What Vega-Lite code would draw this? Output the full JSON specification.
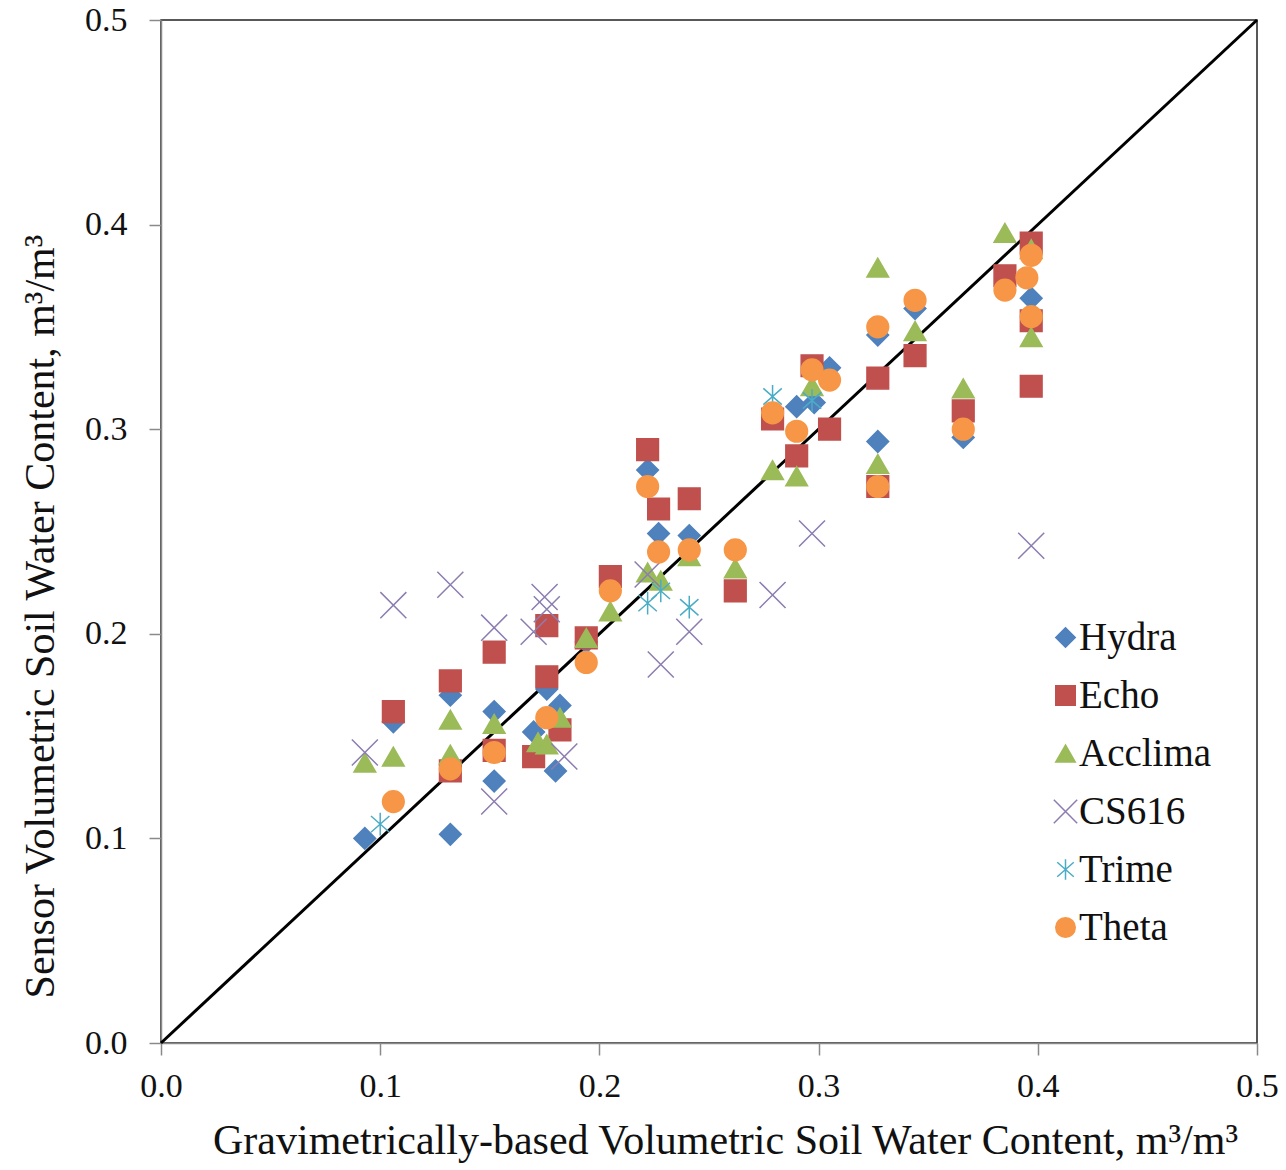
{
  "$schema": "https://vega.github.io/schema/vega-lite/v6.json",
  "width": 1096,
  "height": 1023,
  "autosize": {"type": "none"},
  "padding": {"left": 161, "top": 20, "right": 29, "bottom": 127},
  "background": "white",
  "view": {"stroke": "#222", "strokeWidth": 1.5},
  "config": {
    "font": "Liberation Serif",
    "axis": {
      "grid": false,
      "domainColor": "#8a8a8a",
      "domainWidth": 1.5,
      "tickColor": "#8a8a8a",
      "tickWidth": 1.5,
      "tickSize": 12,
      "labelFlush": false,
      "labelFont": "Liberation Serif",
      "labelFontSize": 34,
      "labelColor": "#111",
      "titleFont": "Liberation Serif",
      "titleFontSize": 42,
      "titleFontWeight": "normal",
      "titleColor": "#111"
    }
  },
  "layer": [
    {
      "data": {"values": [{"x": 0, "y": 0}, {"x": 0.5, "y": 0.5}]},
      "mark": {"type": "line", "color": "black", "strokeWidth": 3},
      "encoding": {
        "x": {"field": "x", "type": "quantitative", "scale": {"domain": [0, 0.5], "nice": false}},
        "y": {"field": "y", "type": "quantitative", "scale": {"domain": [0, 0.5], "nice": false}}
      }
    },
    {
      "data": {"values": [
        {"s": "Hydra", "x": 0.093, "y": 0.100},
        {"s": "Hydra", "x": 0.106, "y": 0.157},
        {"s": "Hydra", "x": 0.132, "y": 0.170},
        {"s": "Hydra", "x": 0.132, "y": 0.102},
        {"s": "Hydra", "x": 0.152, "y": 0.162},
        {"s": "Hydra", "x": 0.152, "y": 0.128},
        {"s": "Hydra", "x": 0.170, "y": 0.152},
        {"s": "Hydra", "x": 0.176, "y": 0.173},
        {"s": "Hydra", "x": 0.182, "y": 0.165},
        {"s": "Hydra", "x": 0.180, "y": 0.133},
        {"s": "Hydra", "x": 0.194, "y": 0.196},
        {"s": "Hydra", "x": 0.222, "y": 0.280},
        {"s": "Hydra", "x": 0.227, "y": 0.249},
        {"s": "Hydra", "x": 0.241, "y": 0.248},
        {"s": "Hydra", "x": 0.290, "y": 0.311},
        {"s": "Hydra", "x": 0.298, "y": 0.313},
        {"s": "Hydra", "x": 0.305, "y": 0.330},
        {"s": "Hydra", "x": 0.327, "y": 0.346},
        {"s": "Hydra", "x": 0.327, "y": 0.294},
        {"s": "Hydra", "x": 0.344, "y": 0.359},
        {"s": "Hydra", "x": 0.366, "y": 0.296},
        {"s": "Hydra", "x": 0.397, "y": 0.364},
        {"s": "Echo", "x": 0.106, "y": 0.162},
        {"s": "Echo", "x": 0.132, "y": 0.177},
        {"s": "Echo", "x": 0.132, "y": 0.133},
        {"s": "Echo", "x": 0.152, "y": 0.191},
        {"s": "Echo", "x": 0.152, "y": 0.143},
        {"s": "Echo", "x": 0.170, "y": 0.140},
        {"s": "Echo", "x": 0.176, "y": 0.204},
        {"s": "Echo", "x": 0.176, "y": 0.179},
        {"s": "Echo", "x": 0.182, "y": 0.153},
        {"s": "Echo", "x": 0.194, "y": 0.198},
        {"s": "Echo", "x": 0.205, "y": 0.228},
        {"s": "Echo", "x": 0.222, "y": 0.290},
        {"s": "Echo", "x": 0.227, "y": 0.261},
        {"s": "Echo", "x": 0.241, "y": 0.266},
        {"s": "Echo", "x": 0.262, "y": 0.221},
        {"s": "Echo", "x": 0.279, "y": 0.305},
        {"s": "Echo", "x": 0.290, "y": 0.287},
        {"s": "Echo", "x": 0.297, "y": 0.331},
        {"s": "Echo", "x": 0.305, "y": 0.300},
        {"s": "Echo", "x": 0.327, "y": 0.325},
        {"s": "Echo", "x": 0.327, "y": 0.272},
        {"s": "Echo", "x": 0.344, "y": 0.336},
        {"s": "Echo", "x": 0.366, "y": 0.309},
        {"s": "Echo", "x": 0.385, "y": 0.375},
        {"s": "Echo", "x": 0.397, "y": 0.391},
        {"s": "Echo", "x": 0.397, "y": 0.353},
        {"s": "Echo", "x": 0.397, "y": 0.321},
        {"s": "Acclima", "x": 0.093, "y": 0.137},
        {"s": "Acclima", "x": 0.106, "y": 0.140},
        {"s": "Acclima", "x": 0.132, "y": 0.158},
        {"s": "Acclima", "x": 0.132, "y": 0.141},
        {"s": "Acclima", "x": 0.152, "y": 0.156},
        {"s": "Acclima", "x": 0.172, "y": 0.147},
        {"s": "Acclima", "x": 0.176, "y": 0.146},
        {"s": "Acclima", "x": 0.182, "y": 0.159},
        {"s": "Acclima", "x": 0.194, "y": 0.198},
        {"s": "Acclima", "x": 0.205, "y": 0.211},
        {"s": "Acclima", "x": 0.222, "y": 0.230},
        {"s": "Acclima", "x": 0.228, "y": 0.226},
        {"s": "Acclima", "x": 0.241, "y": 0.238},
        {"s": "Acclima", "x": 0.262, "y": 0.232},
        {"s": "Acclima", "x": 0.279, "y": 0.280},
        {"s": "Acclima", "x": 0.290, "y": 0.277},
        {"s": "Acclima", "x": 0.297, "y": 0.321},
        {"s": "Acclima", "x": 0.327, "y": 0.379},
        {"s": "Acclima", "x": 0.327, "y": 0.283},
        {"s": "Acclima", "x": 0.344, "y": 0.348},
        {"s": "Acclima", "x": 0.366, "y": 0.320},
        {"s": "Acclima", "x": 0.385, "y": 0.396},
        {"s": "Acclima", "x": 0.397, "y": 0.388},
        {"s": "Acclima", "x": 0.397, "y": 0.345},
        {"s": "CS616", "x": 0.093, "y": 0.142},
        {"s": "CS616", "x": 0.106, "y": 0.214},
        {"s": "CS616", "x": 0.132, "y": 0.224},
        {"s": "CS616", "x": 0.152, "y": 0.203},
        {"s": "CS616", "x": 0.152, "y": 0.118},
        {"s": "CS616", "x": 0.170, "y": 0.201},
        {"s": "CS616", "x": 0.175, "y": 0.218},
        {"s": "CS616", "x": 0.176, "y": 0.212},
        {"s": "CS616", "x": 0.184, "y": 0.140},
        {"s": "CS616", "x": 0.222, "y": 0.229},
        {"s": "CS616", "x": 0.228, "y": 0.185},
        {"s": "CS616", "x": 0.241, "y": 0.201},
        {"s": "CS616", "x": 0.279, "y": 0.219},
        {"s": "CS616", "x": 0.297, "y": 0.249},
        {"s": "CS616", "x": 0.397, "y": 0.243},
        {"s": "Trime", "x": 0.100, "y": 0.107},
        {"s": "Trime", "x": 0.222, "y": 0.215},
        {"s": "Trime", "x": 0.228, "y": 0.221},
        {"s": "Trime", "x": 0.241, "y": 0.213},
        {"s": "Trime", "x": 0.279, "y": 0.316},
        {"s": "Trime", "x": 0.297, "y": 0.314},
        {"s": "Theta", "x": 0.106, "y": 0.118},
        {"s": "Theta", "x": 0.132, "y": 0.134},
        {"s": "Theta", "x": 0.152, "y": 0.142},
        {"s": "Theta", "x": 0.176, "y": 0.159},
        {"s": "Theta", "x": 0.194, "y": 0.186},
        {"s": "Theta", "x": 0.205, "y": 0.221},
        {"s": "Theta", "x": 0.222, "y": 0.272},
        {"s": "Theta", "x": 0.227, "y": 0.240},
        {"s": "Theta", "x": 0.241, "y": 0.241},
        {"s": "Theta", "x": 0.262, "y": 0.241},
        {"s": "Theta", "x": 0.279, "y": 0.308},
        {"s": "Theta", "x": 0.290, "y": 0.299},
        {"s": "Theta", "x": 0.297, "y": 0.329},
        {"s": "Theta", "x": 0.305, "y": 0.324},
        {"s": "Theta", "x": 0.327, "y": 0.350},
        {"s": "Theta", "x": 0.327, "y": 0.272},
        {"s": "Theta", "x": 0.344, "y": 0.363},
        {"s": "Theta", "x": 0.366, "y": 0.300},
        {"s": "Theta", "x": 0.385, "y": 0.368},
        {"s": "Theta", "x": 0.395, "y": 0.374},
        {"s": "Theta", "x": 0.397, "y": 0.385},
        {"s": "Theta", "x": 0.397, "y": 0.355}
      ]},
      "mark": {"type": "point", "size": 470, "strokeWidth": 1.5, "opacity": 1},
      "encoding": {
        "x": {
          "field": "x", "type": "quantitative",
          "scale": {"domain": [0, 0.5], "nice": false},
          "axis": {"values": [0, 0.1, 0.2, 0.3, 0.4, 0.5], "format": ".1f", "labelPadding": 14, "titlePadding": 17,
                   "titleX": 564,
                   "title": "Gravimetrically-based Volumetric Soil Water Content, m³/m³"}
        },
        "y": {
          "field": "y", "type": "quantitative",
          "scale": {"domain": [0, 0.5], "nice": false},
          "axis": {"values": [0, 0.1, 0.2, 0.3, 0.4, 0.5], "format": ".1f", "labelPadding": 22, "titlePadding": 22,
                   "titleY": 596,
                   "title": "Sensor Volumetric Soil Water Content, m³/m³"}
        },
        "fill": {
          "field": "s", "type": "nominal",
          "scale": {"domain": ["Hydra", "Echo", "Acclima", "CS616", "Trime", "Theta"],
                    "range": ["#4F81BD", "#C0504D", "#9BBB59", "transparent", "transparent", "#F79646"]},
          "legend": {"title": null}
        },
        "stroke": {
          "field": "s", "type": "nominal",
          "scale": {"domain": ["Hydra", "Echo", "Acclima", "CS616", "Trime", "Theta"],
                    "range": ["#4F81BD", "#C0504D", "#9BBB59", "#8C7DB0", "#4BACC6", "#F79646"]},
          "legend": {"title": null}
        },
        "shape": {
          "field": "s", "type": "nominal",
          "scale": {"domain": ["Hydra", "Echo", "Acclima", "CS616", "Trime", "Theta"],
                    "range": ["diamond", "square", "triangle-up", "M-1.2,-1.2L1.2,1.2M-1.2,1.2L1.2,-1.2", "M0,-1.05L0,1.05M-0.85,-0.75L0.85,0.75M-0.85,0.75L0.85,-0.75", "circle"]},
          "legend": {
            "title": null,
            "orient": "none",
            "legendX": 885,
            "legendY": 598,
            "padding": 0,
            "symbolSize": 380,
            "symbolStrokeWidth": 1.5,
            "labelFont": "Liberation Serif",
            "labelFontSize": 39,
            "labelColor": "#111",
            "labelOffset": -6,
            "rowPadding": 18
          }
        }
      }
    }
  ]
}
